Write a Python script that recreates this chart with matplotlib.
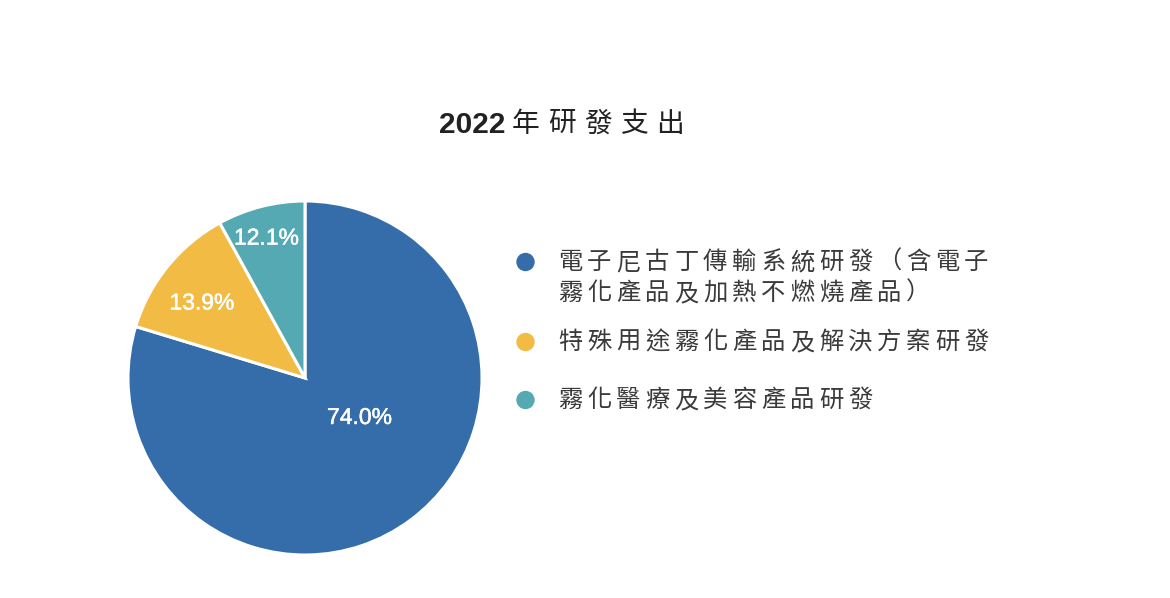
import numpy as np
import matplotlib
matplotlib.use("Agg")
import matplotlib.pyplot as plt
import matplotlib.patheffects as pe

# ---- data ----
categories = [
    "電子尼古丁傳輸系統研發（含電子\n霧化產品及加熱不燃燒產品）",
    "特殊用途霧化產品及解決方案研發",
    "霧化醫療及美容產品研發",
]
values = [79.7, 12.3, 8.0]            # slice sizes as drawn in the picture
pct_labels = ["74.0%", "13.9%", "12.1%"]
colors = ["#356CAA", "#F2BB44", "#55A9B2"]
title_num = "2022"
title_cjk = "年研發支出"

W, H = 1170, 598
fig = plt.figure(figsize=(W / 100, H / 100), dpi=100)
fig.patch.set_facecolor("white")

CJK = ["Noto Sans CJK TC", "DejaVu Sans"]

# ---- pie ----
cx, cy, r = 305, 378, 177
ax = fig.add_axes([(cx - r) / W, (H - cy - r) / H, 2 * r / W, 2 * r / H])
wedges, _ = ax.pie(values, colors=colors, startangle=90, counterclock=False,
                   radius=1.0, wedgeprops=dict(edgecolor="white", linewidth=2.2))
ax.set_xlim(-1, 1)
ax.set_ylim(-1, 1)
ax.set_aspect("equal")
ax.axis("off")

label_r = [0.38, 0.72, 0.82]
label_da = [17.5, 3.0, 1.0]
for w, lab, rr, da in zip(wedges, pct_labels, label_r, label_da):
    ang = np.deg2rad((w.theta1 + w.theta2) / 2 + da)
    t = ax.text(rr * np.cos(ang), rr * np.sin(ang), lab, color="white",
                fontsize=16.5, family="Liberation Sans", ha="center", va="center")
    t.set_path_effects([pe.withStroke(linewidth=0.35, foreground="white")])

# ---- overlay axes in pixel coords for title and legend ----
ov = fig.add_axes([0, 0, 1, 1])
ov.set_xlim(0, W)
ov.set_ylim(H, 0)
ov.axis("off")

# title
ov.text(439, 125, title_num, fontsize=21.5, fontweight="bold",
        family="Liberation Sans", color="#222222", ha="left", va="center")
for i, ch in enumerate(title_cjk):
    ov.text(512 + i * 36, 124, ch, fontsize=20, family=CJK,
            color="#222222", ha="left", va="center")

# legend
marker_y = [262, 342, 400]
line_y0 = [262, 342, 400]
pitch = 29
line_gap = 31
for cat, col, my, ly in zip(categories, colors, marker_y, line_y0):
    ov.scatter([525.5], [my], s=175, color=col, edgecolors="none")
    for li, line in enumerate(cat.split("\n")):
        for ci, ch in enumerate(line):
            ov.text(558 + ci * pitch, ly + li * line_gap, ch, fontsize=17.5,
                    family=CJK, color="#3a3a3a", ha="left", va="center")

fig.savefig("out.png", dpi=100, facecolor="white")
